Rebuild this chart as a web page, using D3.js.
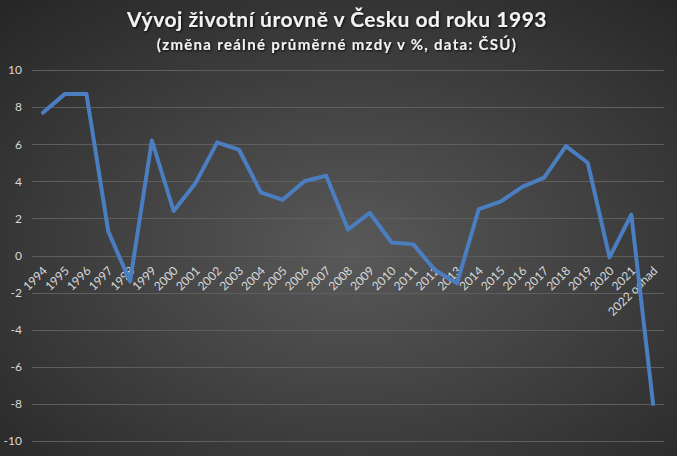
<!DOCTYPE html>
<html><head><meta charset="utf-8">
<script src="https://cdn.jsdelivr.net/npm/d3@7"></script>
<style>html,body{margin:0;padding:0;background:#333;}svg{display:block;}</style>
</head><body>
<script>
const categories = ["1994","1995","1996","1997","1998","1999","2000","2001","2002","2003","2004","2005","2006","2007","2008","2009","2010","2011","2012","2013","2014","2015","2016","2017","2018","2019","2020","2021","2022 odhad"];
const values = [7.7,8.7,8.7,1.3,-1.4,6.2,2.4,3.9,6.1,5.7,3.4,3.0,4.0,4.3,1.4,2.3,0.7,0.6,-0.8,-1.5,2.5,2.9,3.7,4.2,5.9,5.0,-0.1,2.2,-8.0];
const yTicks = [10,8,6,4,2,0,-2,-4,-6,-8,-10];
const title = "Vývoj životní úrovně v Česku od roku 1993";
const subtitle = "(změna reálné průměrné mzdy v %, data: ČSÚ)";

const W = 677, H = 456;
const svg = d3.select("body").append("svg").attr("width", W).attr("height", H);
const defs = svg.append("defs");
const grad = defs.append("radialGradient").attr("id","bg").attr("cx","52%").attr("cy","55%").attr("r","75%");
grad.append("stop").attr("offset","0%").attr("stop-color","#595959");
grad.append("stop").attr("offset","100%").attr("stop-color","#262626");
const sh = defs.append("filter").attr("id","shadow").attr("x","-10%").attr("y","-30%").attr("width","120%").attr("height","160%");
sh.append("feDropShadow").attr("dx",1).attr("dy",1).attr("stdDeviation",1.2).attr("flood-color","#000").attr("flood-opacity",0.85);

svg.append("rect").attr("width",W).attr("height",H).attr("fill","url(#bg)");

const plot = {left:32, right:664, top:70, bottom:441};
const x = d3.scaleBand().domain(categories).range([plot.left, plot.right]);
const y = d3.scaleLinear().domain([-10,10]).range([plot.bottom, plot.top]);

// gridlines
svg.append("g").selectAll("line").data(yTicks).join("line")
  .attr("x1",plot.left).attr("x2",plot.right)
  .attr("y1",d=>Math.round(y(d))+0.5).attr("y2",d=>Math.round(y(d))+0.5)
  .attr("stroke","#5e5e5e").attr("stroke-width",1);

// y labels
const yAxis = d3.axisLeft(y).tickValues(yTicks).tickSize(0).tickPadding(0).tickFormat(d=>d<0?"-"+Math.abs(d):d);
const ya = svg.append("g").attr("transform",`translate(${plot.left-10},0)`).call(yAxis);
ya.select(".domain").remove();
ya.selectAll("text").attr("fill","#d9d9d9").attr("font-family","Lato, 'Open Sans', sans-serif").attr("font-size",12);

// x labels
const xAxis = d3.axisBottom(x).tickSize(0).tickPadding(0);
const xa = svg.append("g").attr("transform",`translate(0,${y(0)})`).call(xAxis);
xa.select(".domain").remove();
xa.selectAll("text")
  .attr("fill","#d9d9d9").attr("font-family","Lato, 'Open Sans', sans-serif").attr("font-size",12)
  .attr("text-anchor","end").attr("dy",null).attr("y",0)
  .attr("transform","translate(3,14) rotate(-45)")
  .attr("dominant-baseline","middle");

// line
const line = d3.line().x((d,i)=>x(categories[i])+x.bandwidth()/2).y(d=>y(d));
svg.append("path").datum(values).attr("d",line)
  .attr("fill","none").attr("stroke","#4a7ec0").attr("stroke-width",4)
  .attr("stroke-linejoin","round").attr("stroke-linecap","round");

// titles
svg.append("text").attr("x",337).attr("y",27).attr("text-anchor","middle")
  .attr("font-family","Lato, 'Open Sans', sans-serif").attr("font-weight","bold").attr("font-size",21)
  .attr("fill","#f2f2f2").attr("filter","url(#shadow)").attr("letter-spacing",0.5).text(title);
svg.append("text").attr("x",337).attr("y",50).attr("text-anchor","middle")
  .attr("font-family","Lato, 'Open Sans', sans-serif").attr("font-weight","bold").attr("font-size",15)
  .attr("fill","#f2f2f2").attr("filter","url(#shadow)").attr("letter-spacing",1.3).text(subtitle);
</script>
</body></html>
